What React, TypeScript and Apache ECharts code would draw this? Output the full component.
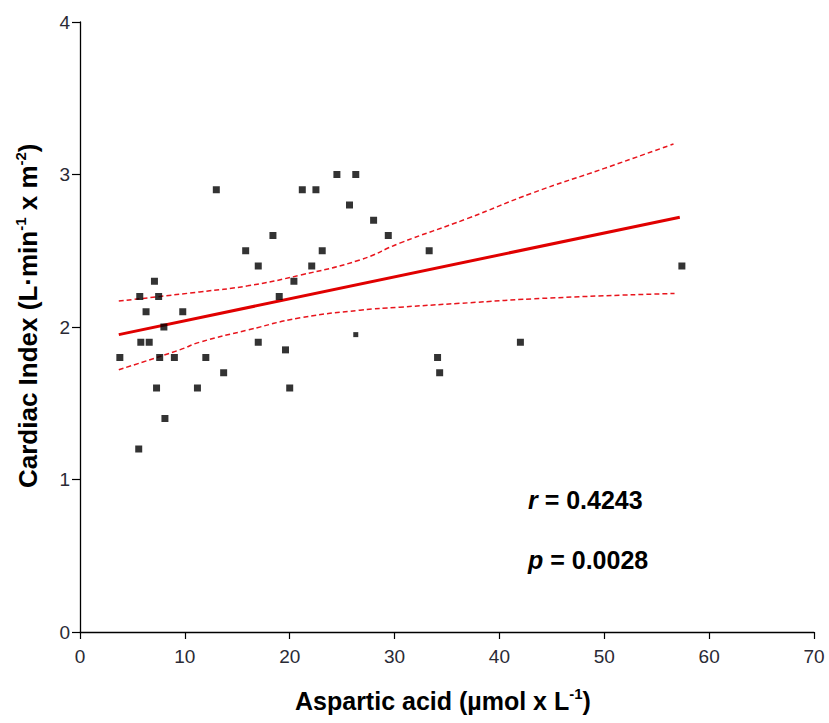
import React, { useEffect, useRef } from "react";
import * as echarts from "echarts";

const xTicks = [0, 10, 20, 30, 40, 50, 60, 70];
const yTicks = [0, 1, 2, 3, 4];

// [aspartic acid, cardiac index]
const points: number[][] = [
  [3.8, 1.8], [5.6, 1.2], [5.7, 2.2], [5.8, 1.9], [6.3, 2.1], [6.6, 1.9],
  [7.1, 2.3], [7.3, 1.6], [7.5, 2.2], [7.6, 1.8], [8.0, 2.0], [8.1, 1.4],
  [9.0, 1.8], [9.8, 2.1], [11.2, 1.6], [12.0, 1.8], [13.0, 2.9], [13.7, 1.7],
  [15.8, 2.5], [17.0, 2.4], [17.0, 1.9], [18.4, 2.6], [19.0, 2.2], [19.6, 1.85],
  [20.0, 1.6], [20.4, 2.3], [21.2, 2.9], [22.1, 2.4], [22.5, 2.9], [23.1, 2.5],
  [24.5, 3.0], [25.7, 2.8], [26.3, 3.0], [28.0, 2.7], [29.4, 2.6], [33.3, 2.5],
  [34.1, 1.8], [34.3, 1.7], [42.0, 1.9], [57.4, 2.4],
];
const smallPoints: number[][] = [[26.3, 1.95]];

const fitLine: number[][] = [[3.7, 1.95], [57.2, 2.72]];
const upperBand: number[][] = [
  [3.7, 2.17], [11.4, 2.23], [16.0, 2.27], [21.0, 2.34], [26.7, 2.44],
  [30.5, 2.55], [36.9, 2.71], [43.2, 2.88], [50.0, 3.04], [56.6, 3.2],
];
const lowerBand: number[][] = [
  [3.7, 1.72], [9.5, 1.85], [11.4, 1.9], [16.0, 1.98], [21.0, 2.06],
  [26.7, 2.11], [30.5, 2.13], [36.2, 2.155], [44.8, 2.19], [56.7, 2.22],
];

const rText = "0.4243";
const pText = "0.0028";

export default function App() {
  const ref = useRef<HTMLDivElement>(null);
  useEffect(() => {
    if (!ref.current) return;
    const chart = echarts.init(ref.current, null, { renderer: "svg" });
    const font = "'Liberation Sans', Arial, sans-serif";
    const titleRich = {
      a: { fontSize: 25, fontWeight: "bold", fontFamily: font, fill: "#000" },
      s: { fontSize: 15, fontWeight: "bold", fontFamily: font, fill: "#000", verticalAlign: "top", padding: [0, 0, 14, 0] },
    };
    const yTitleRich = {
      a: { fontSize: 26, fontWeight: "bold", fontFamily: font, fill: "#000" },
      s: { fontSize: 15, fontWeight: "bold", fontFamily: font, fill: "#000", verticalAlign: "top", padding: [0, 0, 14, 0] },
    };
    const statRich = {
      i: { fontSize: 25, fontWeight: "bold", fontStyle: "italic", fontFamily: font, fill: "#000" },
      b: { fontSize: 25, fontWeight: "bold", fontFamily: font, fill: "#000" },
    };
    chart.setOption({
      animation: false,
      backgroundColor: "#ffffff",
      grid: { left: 80, right: 15, top: 22, bottom: 91, containLabel: false },
      xAxis: {
        type: "value",
        min: xTicks[0],
        max: xTicks[xTicks.length - 1],
        interval: 10,
        splitLine: { show: false },
        axisLine: { lineStyle: { color: "#000", width: 1.3 } },
        axisTick: { show: true, length: 7, lineStyle: { color: "#000", width: 1.2 } },
        axisLabel: { color: "#2a2a35", fontSize: 19, fontFamily: font, margin: 15 },
      },
      yAxis: {
        type: "value",
        min: yTicks[0],
        max: yTicks[yTicks.length - 1],
        interval: 1,
        splitLine: { show: false },
        axisLine: { show: true, lineStyle: { color: "#000", width: 1.3 } },
        axisTick: { show: true, length: 8, lineStyle: { color: "#000", width: 1.2 } },
        axisLabel: { color: "#2a2a35", fontSize: 19, fontFamily: font, margin: 10 },
      },
      graphic: [
        {
          type: "text",
          left: 295,
          top: 686,
          style: {
            text: "{a|Aspartic acid (µmol x L}{s|-1}{a|)}",
            rich: titleRich,
          },
        },
        {
          type: "text",
          x: 13,
          y: 488,
          rotation: Math.PI / 2,
          style: {
            text: "{a|Cardiac Index (L·min}{s|-1}{a| x m}{s|-2}{a|)}",
            rich: yTitleRich,
            textAlign: "left",
            textVerticalAlign: "top",
          },
        },
        {
          type: "text",
          left: 528,
          top: 487,
          style: { text: "{i|r}{b| = " + rText + "}", rich: statRich },
        },
        {
          type: "text",
          left: 528,
          top: 547,
          style: { text: "{i|p}{b| = " + pText + "}", rich: statRich },
        },
      ],
      series: [
        {
          type: "line",
          data: upperBand,
          smooth: true,
          showSymbol: false,
          lineStyle: { color: "#e8141c", width: 1.5, type: [5, 3] },
          z: 3,
        },
        {
          type: "line",
          data: lowerBand,
          smooth: true,
          showSymbol: false,
          lineStyle: { color: "#e8141c", width: 1.5, type: [5, 3] },
          z: 3,
        },
        {
          type: "line",
          data: fitLine,
          showSymbol: false,
          lineStyle: { color: "#e00000", width: 3 },
          z: 4,
        },
        {
          type: "scatter",
          data: points,
          symbol: "rect",
          symbolSize: 7,
          itemStyle: { color: "#000" },
          z: 5,
        },
        {
          type: "scatter",
          data: smallPoints,
          symbol: "rect",
          symbolSize: 5,
          itemStyle: { color: "#000" },
          z: 5,
        },
      ],
    });
    return () => chart.dispose();
  }, []);
  return <div ref={ref} style={{ width: 829, height: 723, position: "absolute", left: 0, top: 0 }} />;
}
